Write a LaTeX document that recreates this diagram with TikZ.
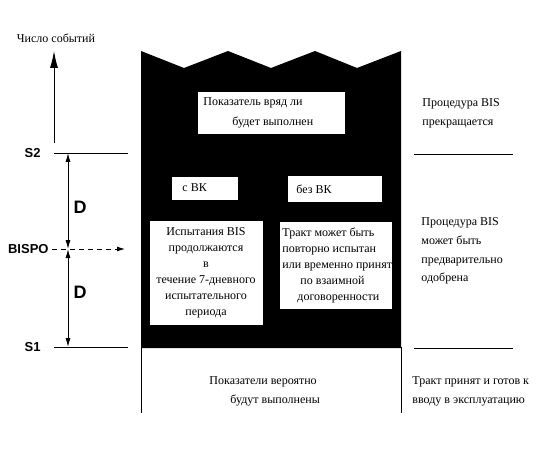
\documentclass[tikz,border=0pt]{standalone}
\usepackage{fontspec}
\setmainfont{Liberation Serif}
\newfontfamily\lblfont{Liberation Sans}
\usetikzlibrary{arrows.meta}

\tikzset{
  txt/.style={inner sep=0pt, align=left, font=\fontsize{12}{19}\selectfont},
  wbox/.style={fill=white, draw=none, inner sep=0pt, anchor=north west},
  lvl/.style={inner sep=0pt, font=\lblfont\bfseries\fontsize{13}{15}\selectfont},
  dlbl/.style={inner sep=0pt, font=\lblfont\bfseries\fontsize{18}{20}\selectfont},
}

\begin{document}
\begin{tikzpicture}[x=1pt,y=-1pt,line width=0.9pt]
    \useasboundingbox (0,0) rectangle (548,449);

    % black field with zigzag top
    \fill (141,51) -- (184,68) -- (228,51) -- (271,68) -- (315,51)
        -- (357,68) -- (401,51) -- (401,348) -- (141,348) -- cycle;
    \draw (141,347) -- (141,413);
    \draw (401,347) -- (401,413);

    % white boxes
    \node[wbox,minimum width=147pt,minimum height=42pt] (top) at (198,92) {};
    \node[wbox,minimum width=66pt,minimum height=23pt] (vk) at (172,177) {};
    \node[wbox,minimum width=94pt,minimum height=26pt] (novk) at (288,176) {};
    \node[wbox,minimum width=113pt,minimum height=104pt] (lbox) at (150,221) {};
    \node[wbox,minimum width=112pt,minimum height=87pt] (rbox) at (280,222) {};

    % texts in the boxes
    \node[txt,anchor=west,font=\fontsize{12}{20}\selectfont] (t1) at (203,113)
        {Показатель вряд ли\\\hspace*{29pt}будет выполнен};
    \node[txt,anchor=west] (t2) at (182,188) {с ВК};
    \node[txt,anchor=west] (t3) at (296,189) {без ВК};
    \node[txt,align=center,font=\fontsize{12}{16}\selectfont] (t4) at (206,273)
        {Испытания BIS\\продолжаются\\в\hspace*{22pt}\\течение 7-дневного\\испытательного\\периода};
    \node[txt,anchor=west,font=\fontsize{12}{16}\selectfont] (t5) at (282,265)
        {Тракт может быть\\повторно испытан\\или временно принят\\\hspace*{18pt}по взаимной\\\hspace*{15pt}договоренности};
    \node[txt,anchor=west] (t6) at (209,391)
        {Показатели вероятно\\\hspace*{21pt}будут выполнены};

    % right column
    \node[txt,anchor=west] (r1) at (422,113) {Процедура BIS\\прекращается};
    \node[txt,anchor=west,font=\fontsize{12}{18.7}\selectfont] (r2) at (421,251)
        {Процедура BIS\\может быть\\предварительно\\одобрена};
    \node[txt,anchor=west] (r3) at (412,391)
        {Тракт принят и готов к\\вводу в эксплуатацию};

    % axis
    \node[txt] (ax) at (56,38) {Число событий};
    \coordinate (a0) at (54,143);
    \coordinate (a1) at (54,51);
    \draw[-{Latex[length=17pt,width=8pt]}] (a0) -- (a1);

    % levels
    \node[lvl,anchor=east] (s2) at (41,153) {S2};
    \node[lvl,anchor=east] (s1) at (41,347) {S1};
    \node[lvl,anchor=east] (bispo) at (49,249) {BISPO};
    \coordinate (s2a) at (54,153);
    \coordinate (s2b) at (128,153);
    \coordinate (s2c) at (414,154);
    \coordinate (s2d) at (513,154);
    \coordinate (s1a) at (54,347);
    \coordinate (s1b) at (128,347);
    \coordinate (s1c) at (414,348);
    \coordinate (s1d) at (513,348);
    \draw (s2a) -- (s2b);
    \draw (s2c) -- (s2d);
    \draw (s1a) -- (s1b);
    \draw (s1c) -- (s1d);

    % D spans
    \coordinate (d2) at (68,153);
    \coordinate (dm) at (68,249);
    \coordinate (d1) at (68,347);
    \draw[{Latex[length=9pt,width=5pt]}-{Latex[length=9pt,width=5pt]}] (d2) -- (dm);
    \draw[{Latex[length=9pt,width=5pt]}-{Latex[length=9pt,width=5pt]}] (dm) -- (d1);
    \node[dlbl] (da) at (80,207) {D};
    \node[dlbl] (db) at (80,292) {D};

    \coordinate (bp) at (125,249);
    \draw[dashed,dash pattern=on 5pt off 4pt,-{Latex[length=8pt,width=5pt]}] ([xshift=3pt]bispo.east) -- (bp);
\end{tikzpicture}
\end{document}
